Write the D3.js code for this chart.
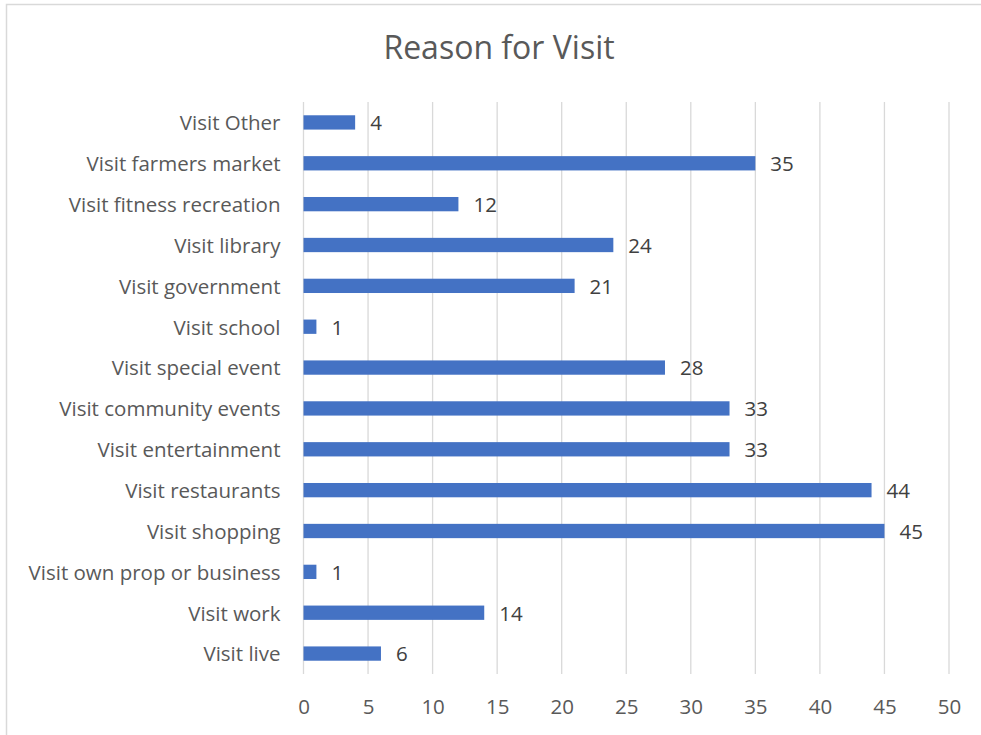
<!DOCTYPE html>
<html lang="en">
<head>
<meta charset="utf-8">
<title>Reason for Visit</title>
<script src="https://cdn.jsdelivr.net/npm/d3@7"></script>
<style>
  body { margin: 0; background: #fff; }
  svg text { font-family: "Open Sans", sans-serif; fill: #595959; }
</style>
</head>
<body>
<script>
// data, top to bottom as drawn
var categories = ["Visit Other", "Visit farmers market", "Visit fitness recreation", "Visit library",
  "Visit government", "Visit school", "Visit special event", "Visit community events",
  "Visit entertainment", "Visit restaurants", "Visit shopping", "Visit own prop or business",
  "Visit work", "Visit live"];
var counts = [4, 35, 12, 24, 21, 1, 28, 33, 33, 44, 45, 1, 14, 6];
var ticks = [0, 5, 10, 15, 20, 25, 30, 35, 40, 45, 50];

var W = 981, H = 735;
var svg = d3.select("body").append("svg").attr("width", W).attr("height", H);

// chart border (cut off on right/bottom)
svg.append("rect")
  .attr("x", 6.5).attr("y", 4.5).attr("width", W).attr("height", H)
  .attr("fill", "none").attr("stroke", "#d9d9d9").attr("stroke-width", 1.5);

svg.append("text")
  .attr("x", 499).attr("y", 59)
  .attr("text-anchor", "middle")
  .style("font-size", "32px")
  .text("Reason for Visit");

var x = d3.scaleLinear().domain([0, 50]).range([303.5, 949]);
var y = d3.scaleBand().domain(categories).range([102, 674]).paddingInner(0.65).paddingOuter(0.325);

// gridlines
svg.append("g").selectAll("line").data(ticks).enter().append("line")
  .attr("x1", function (d) { return x(d); })
  .attr("x2", function (d) { return x(d); })
  .attr("y1", 102).attr("y2", 674)
  .attr("stroke", "#d9d9d9").attr("stroke-width", 1.3);

// x axis labels
var xAxis = d3.axisBottom(x).tickValues(ticks).tickSize(0).tickPadding(0);
var gx = svg.append("g").attr("transform", "translate(0,699)").call(xAxis);
gx.select(".domain").remove();
gx.selectAll("text").style("font-size", "20.5px").attr("fill", "#595959").attr("font-family", "Open Sans");

// y axis labels
var yAxis = d3.axisLeft(y).tickSize(0).tickPadding(23);
var gy = svg.append("g").attr("transform", "translate(303.5,0)").call(yAxis);
gy.select(".domain").remove();
gy.selectAll("text").style("font-size", "20.5px").attr("dy", "0.38em")
  .attr("fill", "#595959").attr("font-family", "Open Sans");

// bars
svg.append("g").selectAll("rect").data(counts).enter().append("rect")
  .attr("x", x(0))
  .attr("y", function (d, i) { return y(categories[i]); })
  .attr("width", function (d) { return x(d) - x(0); })
  .attr("height", y.bandwidth())
  .attr("fill", "#4472C4");

// value labels
svg.append("g").selectAll("text").data(counts).enter().append("text")
  .attr("x", function (d) { return x(d) + 15; })
  .attr("y", function (d, i) { return y(categories[i]) + y.bandwidth() / 2; })
  .attr("dy", "0.38em")
  .style("font-size", "20.5px")
  .style("fill", "#404040")
  .text(function (d) { return d; });
</script>
</body>
</html>
